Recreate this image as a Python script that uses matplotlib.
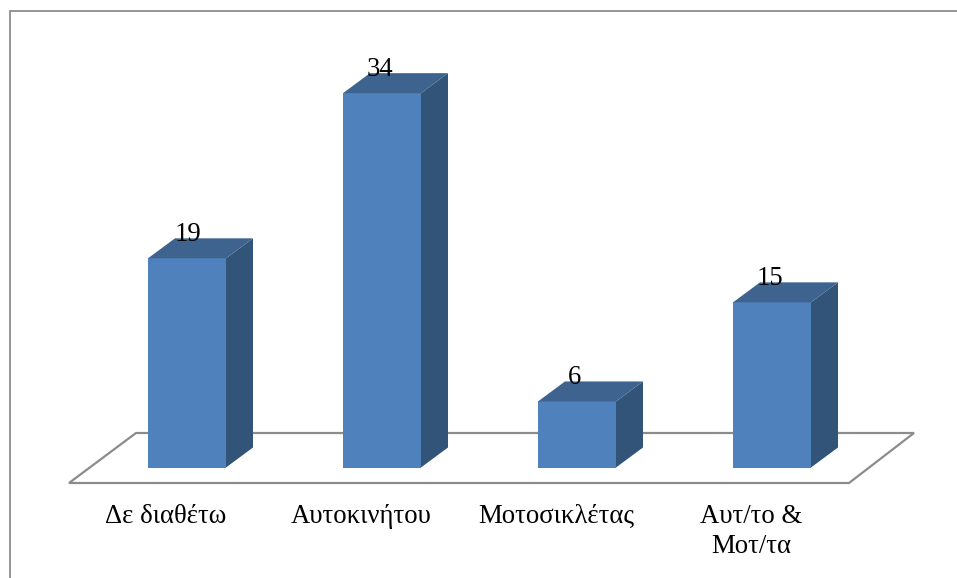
import matplotlib
matplotlib.use('Agg')
import matplotlib.pyplot as plt
from matplotlib.patches import Polygon, Rectangle

categories = ['Δε διαθέτω', 'Αυτοκινήτου', 'Μοτοσικλέτας', 'Αυτ/το &\nΜοτ/τα']
values = [19, 34, 6, 15]

W, H = 957, 578
# one category = 195 px, one unit = 11.01 px, first bar centre at x=187, zero at y=467.5
PX_X = 195.0
PX_Y = 11.01
bar_w = 78 / PX_X
depth_x = 27 / PX_X
depth_y = 20 / PX_Y
value_shift = [1, -2, -2, -2]  # px, the value labels are not quite centred


def px(x, y):
    return ((x - 187) / PX_X, (467.5 - y) / PX_Y)


plt.rcParams['font.family'] = ['Liberation Serif', 'DejaVu Serif']
fig = plt.figure(figsize=(W / 100, H / 100), dpi=100)
ax = fig.add_axes([0, 0, 1, 1])
ax.set_xlim(px(0, 0)[0], px(W, 0)[0])
ax.set_ylim(px(0, H)[1], px(0, 0)[1])
ax.axis('off')

grey = '#8c8c8c'
# chart frame, open at the right and at the bottom
frame = [px(10, H), px(10, 11), px(W, 11)]
ax.plot(*zip(*frame), color=grey, lw=1.3, solid_joinstyle='miter')
# floor
floor = [px(69, 483), px(136, 433), px(914, 433), px(849, 483)]
ax.add_patch(Polygon(floor, closed=True, fill=False, edgecolor=grey, lw=1.6))

for i, (label, v) in enumerate(zip(categories, values)):
    l = i - bar_w / 2
    r = i + bar_w / 2
    ax.add_patch(Rectangle((l, 0), bar_w, v, fc='#4f81bd', ec='none', zorder=3))
    ax.add_patch(Polygon([(r, 0), (r + depth_x, depth_y), (r + depth_x, v + depth_y), (r, v)],
                         fc='#325479', ec='none', zorder=3))
    ax.add_patch(Polygon([(l, v), (l + depth_x, v + depth_y), (r + depth_x, v + depth_y), (r, v)],
                         fc='#3e638f', ec='none', zorder=3))
    # value sits on the back edge of the bar top
    ax.text(i + value_shift[i] / PX_X, v + depth_y - 3 / PX_Y, str(v), ha='center', va='baseline',
            fontsize=19.3, color='black', zorder=4)
    # labels are centred left of the bars, lines 30 px apart
    for k, line in enumerate(label.split('\n')):
        ax.text(i - 21 / PX_X, px(0, 523 + 30 * k)[1], line, ha='center', va='baseline',
                fontsize=19.3, color='black')

fig.savefig('out.png', dpi=100)
